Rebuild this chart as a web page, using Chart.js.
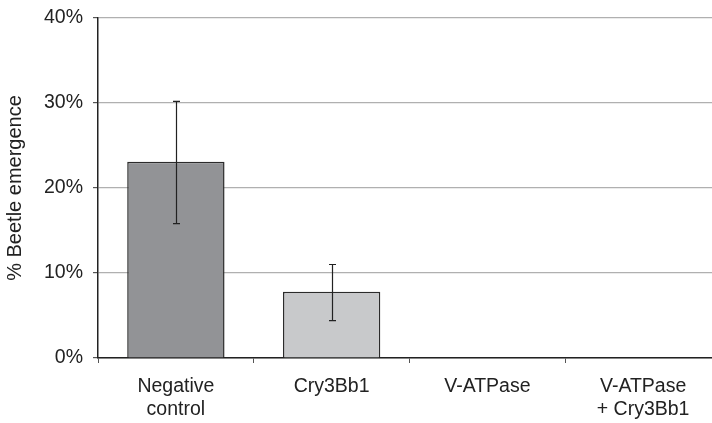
<!DOCTYPE html>
<html>
<head>
<meta charset="utf-8">
<script src="https://cdn.jsdelivr.net/npm/chart.js@4/dist/chart.umd.min.js"></script>
<style>
  html, body { margin: 0; padding: 0; background: #fff; overflow: hidden; }
  #wrap { width: 721px; height: 423px; }
</style>
</head>
<body>
<div id="wrap"><canvas id="chart"></canvas></div>
<script>
const CATEGORIES = [["Negative", "control"], "Cry3Bb1", "V-ATPase", ["V-ATPase", "+ Cry3Bb1"]];
const EMERGENCE = [23.1, 7.8, 0, 0];
const ERR_HIGH = [30.2, 11.0, null, null];
const ERR_LOW = [15.8, 4.4, null, null];
const BAR_COLORS = ["#929396", "#c8c9cb", "#929396", "#c8c9cb"];

const FONT = "'Liberation Sans', Arial, sans-serif";

// error bars drawn from the data arrays through the scales
const errorBars = {
  id: "errorBars",
  afterDatasetsDraw(chart) {
    const { ctx, scales: { x, y } } = chart;
    ctx.save();
    ctx.strokeStyle = "#222";
    ctx.lineWidth = 1.2;
    EMERGENCE.forEach((v, i) => {
      if (ERR_HIGH[i] == null) return;
      const px = Math.round(x.getPixelForValue(i)) + 0.5;
      const top = y.getPixelForValue(ERR_HIGH[i]);
      const bot = y.getPixelForValue(ERR_LOW[i]);
      ctx.beginPath();
      ctx.moveTo(px, top); ctx.lineTo(px, bot);
      ctx.moveTo(px - 3.5, top); ctx.lineTo(px + 3.5, top);
      ctx.moveTo(px - 3.5, bot); ctx.lineTo(px + 3.5, bot);
      ctx.stroke();
    });
    ctx.restore();
  }
};

new Chart(document.getElementById("chart"), {
  type: "bar",
  data: {
    labels: CATEGORIES,
    datasets: [{
      data: EMERGENCE,
      backgroundColor: BAR_COLORS,
      borderColor: "#2b2b2b",
      borderWidth: 1.5,
      categoryPercentage: 1,
      barPercentage: 0.625
    }]
  },
  options: {
    responsive: true,
    maintainAspectRatio: false,
    animation: false,
    layout: { padding: { top: 18, right: 0, left: 0, bottom: 0 } },
    plugins: { legend: { display: false }, tooltip: { enabled: false } },
    scales: {
      x: {
        grid: { offset: true, drawOnChartArea: false, tickLength: 5, tickColor: "#555" },
        border: { color: "#222", width: 1.5 },
        ticks: { color: "#222", font: { family: FONT, size: 19.5 }, padding: 12, maxRotation: 0, autoSkip: false },
        afterFit(scale) { scale.height = 65; }
      },
      y: {
        min: 0,
        max: 40,
        ticks: { stepSize: 10, color: "#222", font: { family: FONT, size: 19.5 }, padding: 10,
                 callback: v => v + "%" },
        grid: { color: "#b0b0b0", lineWidth: 1.2, tickLength: 5, tickColor: "#555" },
        border: { color: "#222", width: 1.5 },
        title: { display: true, text: "% Beetle emergence", color: "#222",
                 font: { family: FONT, size: 20 }, padding: { top: 3, bottom: 0 } },
        afterFit(scale) {
          scale.width = 98;
          scale.paddingTop = 0;
          scale.paddingBottom = 0;
        }
      }
    }
  },
  plugins: [errorBars]
});
</script>
</body>
</html>
